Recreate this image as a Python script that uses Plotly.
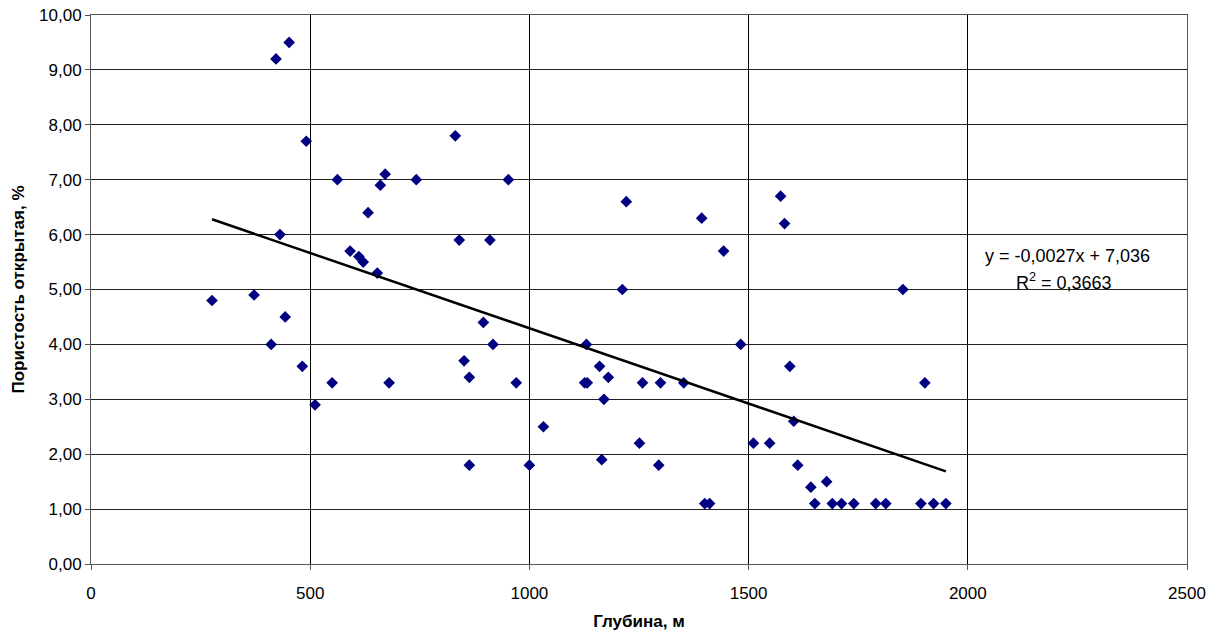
import plotly.graph_objects as go
import numpy as np

depth = [276, 372, 411, 422, 431, 443, 452, 482, 491, 511,
         550, 562, 591, 611, 621, 632, 653, 660, 671, 680,
         742, 831, 840, 851, 863, 863, 895, 910, 917, 952,
         970, 1000, 1032, 1126, 1132, 1130, 1160, 1165, 1170, 1180,
         1212, 1221, 1251, 1258, 1295, 1299, 1352, 1393, 1400, 1411,
         1443, 1482, 1511, 1548, 1573, 1582, 1594, 1603, 1612, 1642,
         1651, 1678, 1691, 1712, 1740, 1790, 1813, 1852, 1893, 1902,
         1922, 1950]
porosity = [4.8, 4.9, 4.0, 9.2, 6.0, 4.5, 9.5, 3.6, 7.7, 2.9,
            3.3, 7.0, 5.7, 5.6, 5.5, 6.4, 5.3, 6.9, 7.1, 3.3,
            7.0, 7.8, 5.9, 3.7, 3.4, 1.8, 4.4, 5.9, 4.0, 7.0,
            3.3, 1.8, 2.5, 3.3, 3.3, 4.0, 3.6, 1.9, 3.0, 3.4,
            5.0, 6.6, 2.2, 3.3, 1.8, 3.3, 3.3, 6.3, 1.1, 1.1,
            5.7, 4.0, 2.2, 2.2, 6.7, 6.2, 3.6, 2.6, 1.8, 1.4,
            1.1, 1.5, 1.1, 1.1, 1.1, 1.1, 1.1, 5.0, 1.1, 3.3,
            1.1, 1.1]

slope = -0.0027427
intercept = 7.036
eq_line1 = "y = -0,0027x + 7,036"
eq_line2 = "R<sup>2</sup> = 0,3663"

x_title = "Глубина, м"
y_title = "Пористость открытая, %"

tx = np.array([min(depth), max(depth)])
ty = slope * tx + intercept

fig = go.Figure()
fig.add_trace(go.Scatter(x=depth, y=porosity, mode="markers",
                         marker=dict(symbol="diamond", color="#000080", size=9),
                         showlegend=False))
fig.add_trace(go.Scatter(x=tx, y=ty, mode="lines",
                         line=dict(color="black", width=2.5), showlegend=False))

ann_font = dict(family="Liberation Sans", size=18, color="black")
fig.add_annotation(x=2228, y=5.61, text=eq_line1, showarrow=False, xref="x", yref="y",
                   font=ann_font, xanchor="center", yanchor="middle")
fig.add_annotation(x=2219, y=5.15, text=eq_line2, showarrow=False, xref="x", yref="y",
                   font=ann_font, xanchor="center", yanchor="middle")

fig.update_layout(
    width=1225, height=634,
    margin=dict(l=91, r=38, t=15, b=70),
    plot_bgcolor="white", paper_bgcolor="white",
    separators=", ",
    font=dict(family="Liberation Sans", size=17, color="black"),
    xaxis=dict(range=[0, 2500], dtick=500, tick0=0, showgrid=True, gridcolor="black", gridwidth=1,
               showline=True, linecolor="#555", mirror=True, ticks="outside", ticklen=5,
               tickcolor="#555", zeroline=False, automargin=False, tickfont=dict(size=17),
               ticklabelstandoff=9,
               title=dict(text="<b>" + x_title + "</b>", font=dict(size=17), standoff=12)),
    yaxis=dict(range=[0, 10], dtick=1, tickformat=".2f", showgrid=True, gridcolor="#222", gridwidth=1,
               showline=True, linecolor="#555", mirror=True, ticks="outside", ticklen=5,
               tickcolor="#555", zeroline=False, automargin=False, tickfont=dict(size=17),
               title=dict(text="<b>" + y_title + "</b>", font=dict(size=17), standoff=10)),
)

fig.write_html("out.html")
